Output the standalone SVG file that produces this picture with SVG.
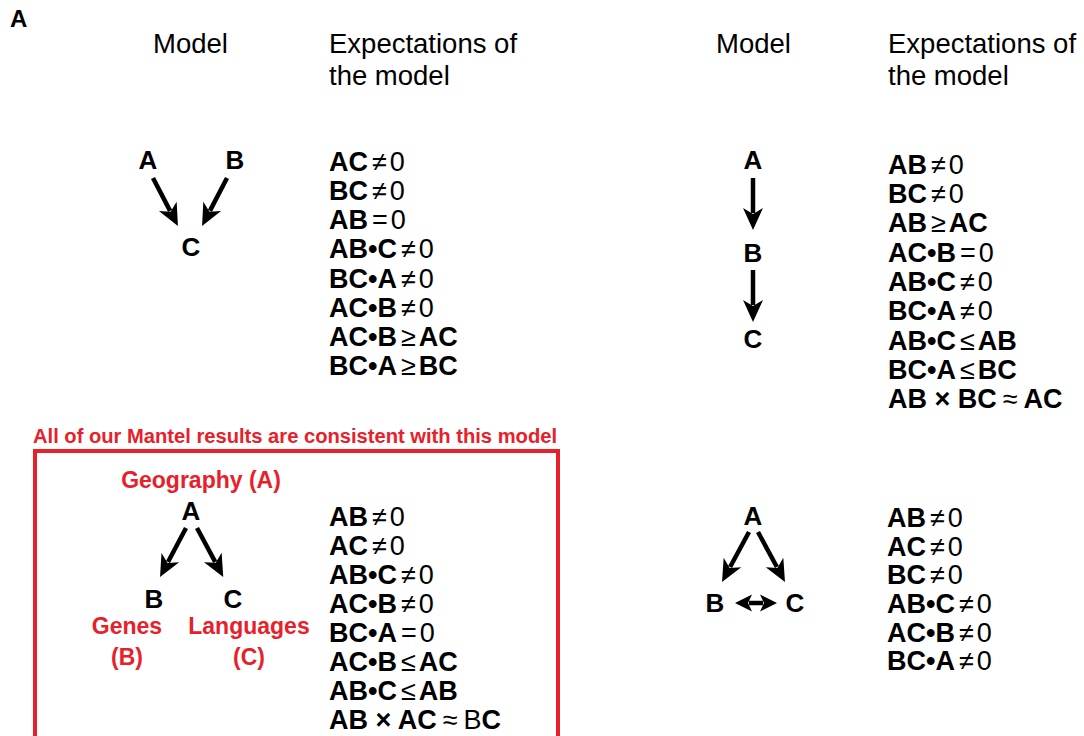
<svg xmlns="http://www.w3.org/2000/svg" width="1084" height="736" viewBox="0 0 1084 736">
  <style>
    text { font-family: "Liberation Sans", Arial, Helvetica, sans-serif; fill: #000; }
    .hdr { font-size: 27.5px; }
    .node { font-size: 26px; font-weight: bold; text-anchor: middle; }
    .ex { font-size: 27px; font-weight: bold; }
    .ex .r { font-weight: normal; }
    .red { fill: #e8202a; font-weight: bold; }
    .lbl { font-size: 23px; text-anchor: middle; }
    .arrow { stroke: #000; stroke-width: 4.5; fill: none; marker-end: url(#head); }
    .dbl { stroke: #000; stroke-width: 4.5; fill: none; marker-start: url(#head-s); marker-end: url(#head-s); }
  </style>
  <defs>
    <marker id="head" markerUnits="userSpaceOnUse" markerWidth="26" markerHeight="22" viewBox="-6 -11 24 22" refX="0" refY="0" orient="auto-start-reverse" overflow="visible">
      <path d="M17,0 L-5,-10 L1,0 L-5,10 Z" fill="#000"/>
    </marker>
    <marker id="head-s" markerUnits="userSpaceOnUse" markerWidth="22" markerHeight="20" viewBox="-4 -10 20 20" refX="0" refY="0" orient="auto-start-reverse" overflow="visible">
      <path d="M14,0 L-3,-8.5 L1,0 L-3,8.5 Z" fill="#000"/>
    </marker>
  </defs>

  <!-- panel letter and column headers -->
  <text x="10" y="27" style="font-size:24px;font-weight:bold">A</text>
  <text class="hdr" x="153" y="53">Model</text>
  <text class="hdr" x="329" y="53">Expectations of</text>
  <text class="hdr" x="329" y="85">the model</text>
  <text class="hdr" x="716" y="53">Model</text>
  <text class="hdr" x="888" y="53">Expectations of</text>
  <text class="hdr" x="888" y="85">the model</text>

  <!-- model 1: A -> C <- B -->
  <g id="m1-A"><text class="node" x="148" y="169">A</text></g>
  <g id="m1-B"><text class="node" x="235" y="169">B</text></g>
  <g id="m1-C"><text class="node" x="191" y="256">C</text></g>

  <!-- model 2: A -> B -> C -->
  <g id="m2-A"><text class="node" x="753" y="169">A</text></g>
  <g id="m2-B"><text class="node" x="753" y="262">B</text></g>
  <g id="m2-C"><text class="node" x="753" y="348">C</text></g>

  <!-- model 3: B <- A -> C (boxed) -->
  <text x="33" y="443" class="red" style="font-size:20px" textLength="524" lengthAdjust="spacingAndGlyphs">All of our Mantel results are consistent with this model</text>
  <rect x="35" y="451" width="523" height="287" fill="none" stroke="#e8202a" stroke-width="4"/>
  <text class="red lbl" x="201" y="488">Geography (A)</text>
  <g id="m3-A"><text class="node" x="191" y="520">A</text></g>
  <g id="m3-B"><text class="node" x="154" y="608">B</text></g>
  <g id="m3-C"><text class="node" x="233" y="608">C</text></g>
  <text class="red lbl" x="127" y="634">Genes</text>
  <text class="red lbl" x="127" y="665">(B)</text>
  <text class="red lbl" x="249" y="634">Languages</text>
  <text class="red lbl" x="249" y="665">(C)</text>

  <!-- model 4: A -> B, A -> C, B <-> C -->
  <g id="m4-A"><text class="node" x="753" y="525">A</text></g>
  <g id="m4-B"><text class="node" x="715" y="612">B</text></g>
  <g id="m4-C"><text class="node" x="795" y="612">C</text></g>

  <!-- connectors -->
  <g id="connectors">
    <line class="arrow" x1="153" y1="178" x2="170.1" y2="210.9"/>
    <line class="arrow" x1="227" y1="178" x2="209.9" y2="210.9"/>
    <line class="arrow" x1="753" y1="178" x2="753" y2="213"/>
    <line class="arrow" x1="753" y1="270" x2="753" y2="305"/>
    <line class="arrow" x1="186" y1="528" x2="168" y2="562"/>
    <line class="arrow" x1="197" y1="528" x2="215.2" y2="561.9"/>
    <line class="arrow" x1="749" y1="532" x2="730.1" y2="567"/>
    <line class="arrow" x1="758" y1="532" x2="776.9" y2="567"/>
    <line class="dbl" x1="749" y1="603" x2="763" y2="603"/>
  </g>

  <!-- expectations, model 1 -->
  <g class="ex">
    <text x="329" y="171">AC<tspan class="r" dx="4">≠</tspan><tspan class="r" dx="3">0</tspan></text>
    <text x="329" y="200">BC<tspan class="r" dx="4">≠</tspan><tspan class="r" dx="3">0</tspan></text>
    <text x="329" y="229">AB<tspan class="r" dx="4">=</tspan><tspan class="r" dx="3">0</tspan></text>
    <text x="329" y="258">AB•C<tspan class="r" dx="4">≠</tspan><tspan class="r" dx="3">0</tspan></text>
    <text x="329" y="288">BC•A<tspan class="r" dx="4">≠</tspan><tspan class="r" dx="3">0</tspan></text>
    <text x="329" y="317">AC•B<tspan class="r" dx="4">≠</tspan><tspan class="r" dx="3">0</tspan></text>
    <text x="329" y="346">AC•B<tspan class="r" dx="4">≥</tspan><tspan dx="3">AC</tspan></text>
    <text x="329" y="375">BC•A<tspan class="r" dx="4">≥</tspan><tspan dx="3">BC</tspan></text>
  </g>

  <!-- expectations, model 2 -->
  <g class="ex">
    <text x="888" y="174">AB<tspan class="r" dx="4">≠</tspan><tspan class="r" dx="3">0</tspan></text>
    <text x="888" y="203">BC<tspan class="r" dx="4">≠</tspan><tspan class="r" dx="3">0</tspan></text>
    <text x="888" y="232">AB<tspan class="r" dx="4">≥</tspan><tspan dx="3">AC</tspan></text>
    <text x="888" y="262">AC•B<tspan class="r" dx="4">=</tspan><tspan class="r" dx="3">0</tspan></text>
    <text x="888" y="291">AB•C<tspan class="r" dx="4">≠</tspan><tspan class="r" dx="3">0</tspan></text>
    <text x="888" y="320">BC•A<tspan class="r" dx="4">≠</tspan><tspan class="r" dx="3">0</tspan></text>
    <text x="888" y="350">AB•C<tspan class="r" dx="4">≤</tspan><tspan dx="3">AB</tspan></text>
    <text x="888" y="379">BC•A<tspan class="r" dx="4">≤</tspan><tspan dx="3">BC</tspan></text>
    <text x="888" y="408">AB × BC<tspan class="r" dx="6">≈</tspan><tspan dx="6">AC</tspan></text>
  </g>

  <!-- expectations, model 3 -->
  <g class="ex">
    <text x="329" y="526">AB<tspan class="r" dx="4">≠</tspan><tspan class="r" dx="3">0</tspan></text>
    <text x="329" y="555">AC<tspan class="r" dx="4">≠</tspan><tspan class="r" dx="3">0</tspan></text>
    <text x="329" y="584">AB•C<tspan class="r" dx="4">≠</tspan><tspan class="r" dx="3">0</tspan></text>
    <text x="329" y="613">AC•B<tspan class="r" dx="4">≠</tspan><tspan class="r" dx="3">0</tspan></text>
    <text x="329" y="642">BC•A<tspan class="r" dx="4">=</tspan><tspan class="r" dx="3">0</tspan></text>
    <text x="329" y="671">AC•B<tspan class="r" dx="4">≤</tspan><tspan dx="3">AC</tspan></text>
    <text x="329" y="700">AB•C<tspan class="r" dx="4">≤</tspan><tspan dx="3">AB</tspan></text>
    <text x="329" y="729">AB × AC<tspan class="r" dx="6">≈</tspan><tspan class="r" dx="6">B</tspan><tspan>C</tspan></text>
  </g>

  <!-- expectations, model 4 -->
  <g class="ex">
    <text x="887" y="527">AB<tspan class="r" dx="4">≠</tspan><tspan class="r" dx="3">0</tspan></text>
    <text x="887" y="556">AC<tspan class="r" dx="4">≠</tspan><tspan class="r" dx="3">0</tspan></text>
    <text x="887" y="584">BC<tspan class="r" dx="4">≠</tspan><tspan class="r" dx="3">0</tspan></text>
    <text x="887" y="613">AB•C<tspan class="r" dx="4">≠</tspan><tspan class="r" dx="3">0</tspan></text>
    <text x="887" y="642">AC•B<tspan class="r" dx="4">≠</tspan><tspan class="r" dx="3">0</tspan></text>
    <text x="887" y="670">BC•A<tspan class="r" dx="4">≠</tspan><tspan class="r" dx="3">0</tspan></text>
  </g>
</svg>
